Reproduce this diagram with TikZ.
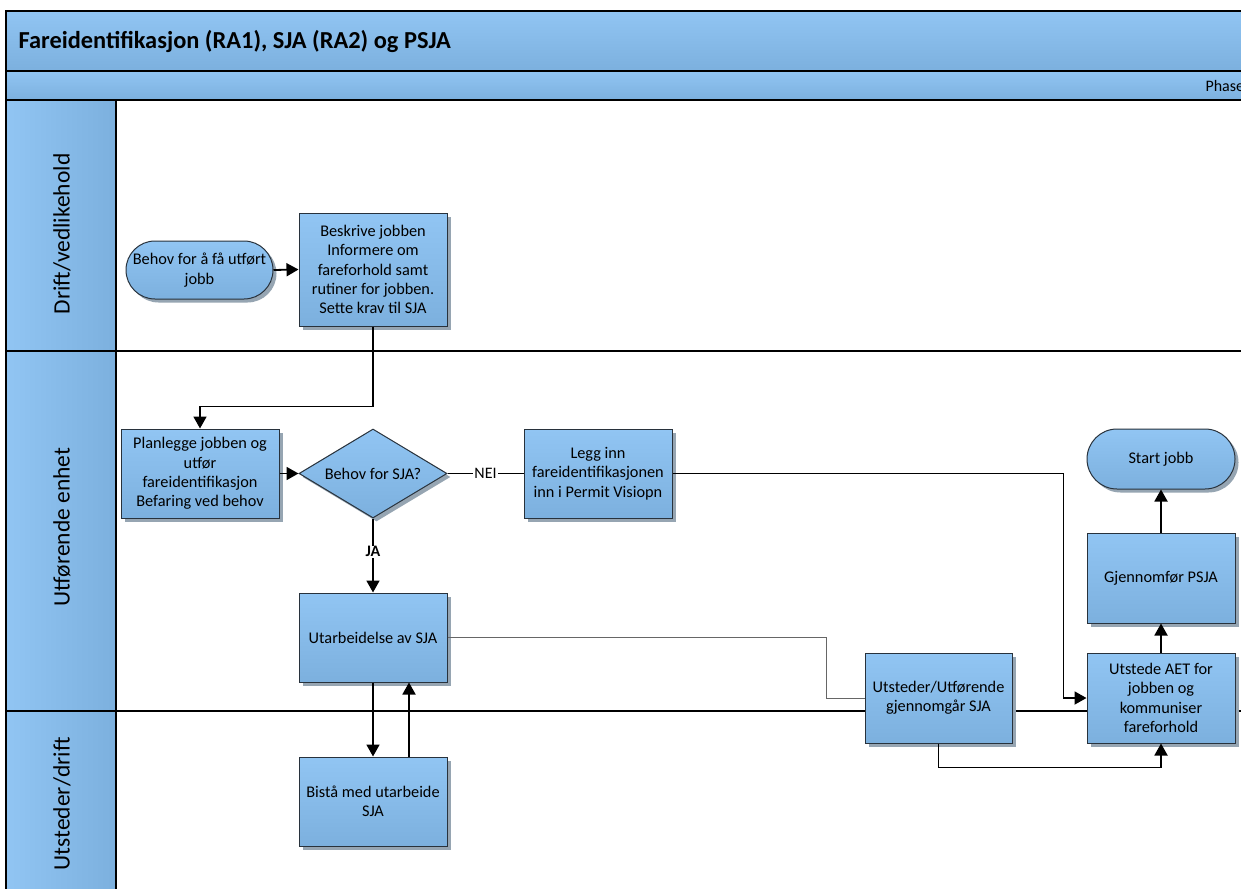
\documentclass[tikz,border=0pt]{standalone}
\usepackage{fontspec}
\setmainfont{Carlito}
\usetikzlibrary{arrows.meta,shapes.geometric,shadows,calc}
\definecolor{blueTop}{RGB}{145,197,243}
\definecolor{blueBot}{RGB}{124,176,222}
\definecolor{shadowc}{RGB}{150,165,178}
\definecolor{edgec}{RGB}{40,50,60}
\tikzset{
  box/.style={draw=edgec, line width=1pt, top color=blueTop, bottom color=blueBot,
    minimum width=148pt, minimum height=89pt, inner sep=1pt, align=center,
    font=\fontsize{16.3}{19.3}\selectfont,
    drop shadow={shadow xshift=3.5pt, shadow yshift=-3.5pt, fill=shadowc, opacity=1}},
  term/.style={box, rounded corners=29pt, minimum height=58pt},
  dec/.style={box, diamond, aspect=1.66, minimum width=148pt, minimum height=89pt, inner sep=0pt},
  arr/.style={line width=1.8pt, -{Triangle[length=12pt,width=13pt]}},
  conn/.style={line width=1.8pt},
  thin/.style={line width=1pt, draw=black!60},
  lbl/.style={fill=white, inner sep=1pt, font=\fontsize{16}{18}\selectfont},
  lanehead/.style={left color=blueTop, right color=blueBot, draw=black, line width=1.2pt},
  band/.style={top color=blueTop, bottom color=blueBot, draw=black, line width=1.5pt},
  lanetxt/.style={rotate=90, font=\fontsize{23.5}{26}\selectfont},
}
\begin{document}
\begin{tikzpicture}[x=1pt,y=-1pt]
\useasboundingbox (0,0) rectangle (1241,888);
\clip (0,0) rectangle (1241,888);
\fill[white] (0,0) rectangle (1241,888);
% bands
\draw[band] (6,11) rectangle (1270,71);
\draw[band] (6,71) rectangle (1270,100);
\node[anchor=west, font=\fontsize{24.4}{28}\bfseries] (title) at (15,42) {Fareidentifikasjon (RA1), SJA (RA2) og PSJA};
\node[anchor=west, font=\fontsize{16}{18}\selectfont] (phase) at (1202,86) {Phase};
% lanes
\draw[line width=1.2pt] (6,100) rectangle (1270,900);
\draw[lanehead] (6,100) rectangle (116,351);
\draw[lanehead] (6,351) rectangle (116,711);
\draw[lanehead] (6,711) rectangle (116,900);
\draw[line width=1.2pt] (116,351) -- (1270,351);
\draw[line width=1.2pt] (116,711) -- (1270,711);
\node[lanetxt] (l1) at (62,234) {Drift/vedlikehold};
\node[lanetxt] (l2) at (62,527) {Utførende enhet};
\node[lanetxt] (l3) at (62,804) {Utsteder/drift};
% nodes
\node[term, minimum width=147pt] (start) at (199.5,270) {Behov for å få utført\\jobb};
\node[box, minimum height=113pt] (besk) at (373,269.5) {Beskrive jobben\\Informere om\\fareforhold samt\\rutiner for jobben.\\Sette krav til SJA};
\node[box, minimum width=158pt] (plan) at (200,473.5) {Planlegge jobben og\\utfør\\fareidentifikasjon\\Befaring ved behov};
\node[dec] (dec) at (373,473.5) {Behov for SJA?};
\node[box] (legg) at (598,473.5) {Legg inn\\fareidentifikasjonen\\inn i Permit Visiopn};
\node[box] (utarb) at (373,637.5) {Utarbeidelse av SJA};
\node[box] (bista) at (373,801.5) {Bistå med utarbeide\\SJA};
\node[box, minimum width=147pt, minimum height=90pt] (utsf) at (938.5,698) {Utsteder/Utførende\\gjennomgår SJA};
\node[box, minimum height=90pt] (utst) at (1161,698) {Utstede AET for\\jobben og\\kommuniser\\fareforhold};
\node[box, minimum height=90pt] (gjen) at (1161,578) {Gjennomfør PSJA};
\node[term, minimum height=60pt, rounded corners=30pt] (sj) at (1161,459) {Start jobb};
% connectors
\draw[arr] (start.east) -- (besk.west);
\draw[arr] (besk.south) -- ++(0,80) -| (plan.north);
\draw[arr] (plan.east) -- (dec.west);
\draw[conn, line width=1pt] (dec.east) -- node[lbl] (nei) {NEI} (legg.west);
\draw[arr] (dec.south) -- node[lbl, font=\fontsize{16}{18}\bfseries, pos=0.45] (ja) {JA} (utarb.north);
\draw[arr] (legg.east) -| ([xshift=-23pt]utst.west) -- (utst.west);
\draw[thin] (utarb.east) -| ([xshift=-38pt]utsf.west) -- (utsf.west);
\draw[arr] (utarb.south) -- (bista.north);
\draw[arr] ([xshift=36pt]bista.north) -- ([xshift=36pt]utarb.south);
\draw[arr] (utsf.south) -- ++(0,24) -| (utst.south);
\draw[arr] (utst.north) -- (gjen.south);
\draw[arr] (gjen.north) -- (sj.south);
\end{tikzpicture}
\end{document}
